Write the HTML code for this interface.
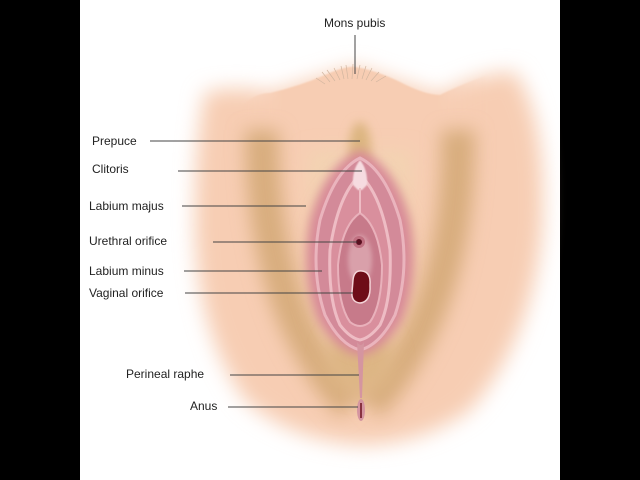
<!DOCTYPE html>
<html><head><meta charset="utf-8"><style>
body{margin:0;width:640px;height:480px;overflow:hidden;background:#000}
svg{display:block}
text{font-family:"Liberation Sans",sans-serif;font-size:12px;fill:#222}
</style></head><body>
<svg width="640" height="480" viewBox="0 0 640 480">
<defs>
<filter id="b" filterUnits="userSpaceOnUse" x="0" y="0" width="640" height="480"><feGaussianBlur stdDeviation="10"/></filter>
<filter id="b8" filterUnits="userSpaceOnUse" x="0" y="0" width="640" height="480"><feGaussianBlur stdDeviation="9"/></filter>
<filter id="b5" filterUnits="userSpaceOnUse" x="0" y="0" width="640" height="480"><feGaussianBlur stdDeviation="5"/></filter>
<filter id="b2" filterUnits="userSpaceOnUse" x="0" y="0" width="640" height="480"><feGaussianBlur stdDeviation="2"/></filter>
<filter id="b1" filterUnits="userSpaceOnUse" x="0" y="0" width="640" height="480"><feGaussianBlur stdDeviation="0.8"/></filter>
<linearGradient id="hf" x1="230" x2="490" y1="0" y2="0" gradientUnits="userSpaceOnUse">
<stop offset="0" stop-color="#f7cdb3" stop-opacity="0"/>
<stop offset="0.2" stop-color="#f7cdb3" stop-opacity="1"/>
<stop offset="0.8" stop-color="#f7cdb3" stop-opacity="1"/>
<stop offset="1" stop-color="#f7cdb3" stop-opacity="0"/>
</linearGradient>
</defs>
<rect x="80" y="0" width="480" height="480" fill="#fff"/>
<path d="M205 92 Q240 85 270 93 Q310 80 355 67 Q400 82 440 95 Q480 72 515 72 Q548 120 542 230 Q532 340 470 410 Q420 445 360 445 Q290 440 245 400 Q195 330 195 220 Q195 140 205 92Z" fill="#f7cdb3" filter="url(#b)"/>
<path d="M230 120 Q250 92 270 93 Q300 86 325 75 Q345 66 355 67 Q375 70 400 82 Q425 95 440 95 Q460 85 490 74 L490 130 Q360 140 230 130Z" fill="url(#hf)" filter="url(#b1)"/>
<path d="M262 130 Q262 250 300 330 Q325 380 352 405" stroke="#d8ad7e" stroke-width="34" fill="none" filter="url(#b8)"/>
<path d="M458 130 Q460 250 420 330 Q395 380 368 405" stroke="#d8ad7e" stroke-width="34" fill="none" filter="url(#b8)"/>
<path d="M308 150 Q306 260 334 330 Q350 362 360 372 Q370 362 386 330 Q414 260 412 150Z" fill="#f3d3b2" filter="url(#b8)"/>
<ellipse cx="360" cy="270" rx="55" ry="95" fill="#e6c194" opacity="0.6" filter="url(#b8)"/>
<ellipse cx="360" cy="360" rx="35" ry="35" fill="#ddb584" filter="url(#b8)"/>
<ellipse cx="360" cy="148" rx="11" ry="26" fill="#dcb580" filter="url(#b5)"/>
<path d="M360 150 Q395 165 410 220 Q420 275 402 320 Q385 350 360 356 Q335 350 318 320 Q300 275 310 220 Q325 165 360 150Z" fill="#d88a98" filter="url(#b5)"/>
<path d="M360 158 Q385 170 400 220 Q410 270 395 315 Q380 345 360 350 Q340 345 325 315 Q310 270 320 220 Q335 170 360 158Z" fill="#d38a99" stroke="#eab4bd" stroke-width="3"/>
<path d="M360 175 Q382 195 390 250 Q392 300 380 325 Q370 338 360 340 Q350 338 340 325 Q328 300 330 250 Q338 195 360 175Z" fill="#d98f9d" stroke="#eebcc4" stroke-width="3"/>
<path d="M360 213 Q378 225 382 265 Q382 305 370 322 Q360 330 350 322 Q338 305 338 265 Q342 225 360 213Z" fill="#c77a8a" stroke="#e9b1bb" stroke-width="2"/>
<ellipse cx="360" cy="260" rx="12" ry="25" fill="#d9a0aa" filter="url(#b2)"/>
<path d="M360 160 Q368 170 367 185 L362 190 L358 190 L353 185 Q352 170 360 160Z" fill="#f6dbe0" filter="url(#b1)"/>
<line x1="360" y1="188" x2="360" y2="213" stroke="#eebcc4" stroke-width="2"/>
<circle cx="359" cy="242" r="6" fill="#c06f80"/>
<circle cx="359" cy="242" r="3" fill="#5a1020"/>
<path d="M353 280 Q354 270 362 271 Q371 272 370 285 Q371 302 360 303 Q351 302 352 292Z" fill="#6e0d18" stroke="#f4d4d8" stroke-width="1.5"/>
<path d="M357 342 Q361 348 364 342 L362 398 L360 398Z" fill="#d595a0"/>
<ellipse cx="361" cy="410" rx="4" ry="11" fill="#d595a0"/>
<line x1="361" y1="403" x2="361" y2="418" stroke="#6e1020" stroke-width="1.5"/>
<g stroke="#d2b6a0" stroke-width="0.7" fill="none">
<path d="M340 80 L334 68 M344 79 L341 66 M348 79 L346 65 M352 79 L353 64 M357 79 L360 65 M362 79 L366 66 M366 80 L372 68 M371 81 L379 72 M330 82 L322 72 M335 81 L327 70 M376 82 L386 76 M325 84 L316 78"/>
</g>
<g stroke="#444" stroke-width="1">
<line x1="355" y1="35" x2="355" y2="74"/>
<line x1="150" y1="141" x2="360" y2="141"/>
<line x1="178" y1="171" x2="362" y2="171"/>
<line x1="182" y1="206" x2="306" y2="206"/>
<line x1="213" y1="242" x2="357" y2="242"/>
<line x1="184" y1="271" x2="322" y2="271"/>
<line x1="185" y1="293" x2="353" y2="293"/>
<line x1="230" y1="375" x2="359" y2="375"/>
<line x1="228" y1="407" x2="358" y2="407"/>
</g>
<text x="324" y="27">Mons pubis</text>
<text x="92" y="145">Prepuce</text>
<text x="92" y="173">Clitoris</text>
<text x="89" y="210">Labium majus</text>
<text x="89" y="245">Urethral orifice</text>
<text x="89" y="275">Labium minus</text>
<text x="89" y="297">Vaginal orifice</text>
<text x="126" y="378">Perineal raphe</text>
<text x="190" y="410">Anus</text>
</svg>
</body></html>
